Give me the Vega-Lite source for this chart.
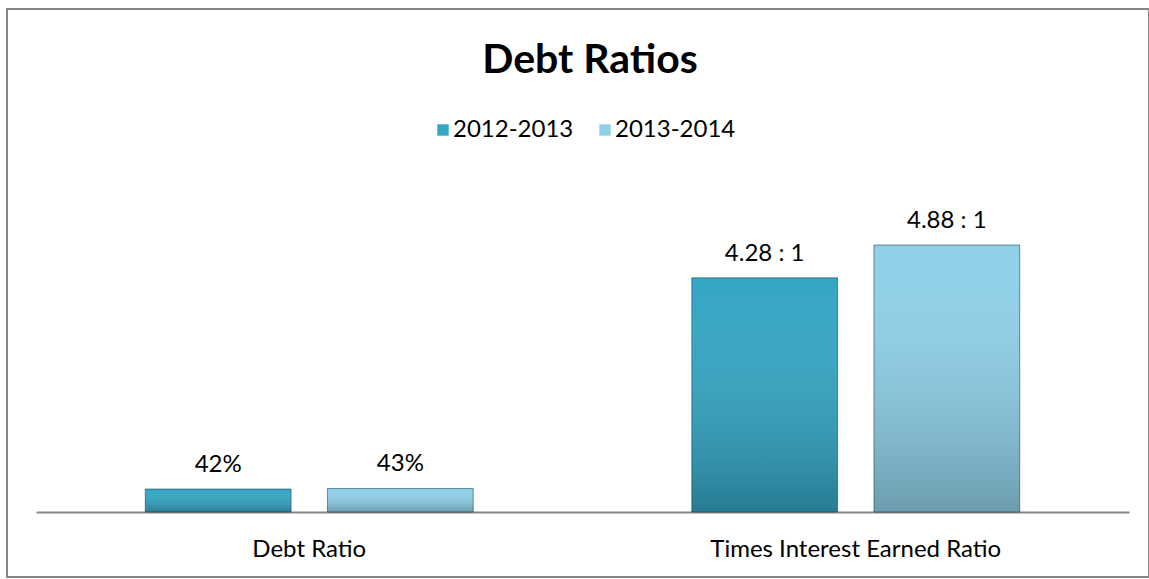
{
  "$schema": "https://vega.github.io/schema/vega-lite/v6.json",
  "width": 1142,
  "height": 568,
  "autosize": {"type": "none"},
  "padding": {"left": 7, "top": 9, "right": 0, "bottom": 2},
  "background": "white",
  "config": {
    "view": {"stroke": "#868686", "strokeWidth": 2},
    "font": "Lato"
  },
  "title": {
    "text": "Debt Ratios",
    "font": "Lato",
    "fontSize": 41,
    "fontWeight": "bold",
    "color": "#000000",
    "anchor": "middle",
    "baseline": "alphabetic",
    "offset": -105,
    "dx": 12
  },
  "data": {
    "values": [
      {"category": "Debt Ratio", "period": "2012-2013", "value": 0.42, "label": "42%"},
      {"category": "Debt Ratio", "period": "2013-2014", "value": 0.43, "label": "43%"},
      {"category": "Times Interest Earned Ratio", "period": "2012-2013", "value": 4.28, "label": "4.28 : 1"},
      {"category": "Times Interest Earned Ratio", "period": "2013-2014", "value": 4.88, "label": "4.88 : 1"}
    ]
  },
  "encoding": {
    "x": {
      "field": "category",
      "type": "nominal",
      "scale": {"range": [29, 1122], "paddingInner": 0.4, "paddingOuter": 0.2},
      "axis": {
        "title": null,
        "orient": "bottom",
        "offset": -65,
        "labelAngle": 0,
        "ticks": false,
        "domainColor": "#868686",
        "domainWidth": 2,
        "labelFont": "Lato",
        "labelFontSize": 24,
        "labelColor": "#000000",
        "labelPadding": 25,
        "labelLimit": 0
      }
    },
    "xOffset": {
      "field": "period",
      "type": "nominal",
      "scale": {"paddingInner": 0.2, "paddingOuter": 0}
    },
    "y": {
      "field": "value",
      "type": "quantitative",
      "scale": {"domain": [0, 4.88], "range": [503, 236], "nice": false, "zero": true},
      "axis": null
    }
  },
  "layer": [
    {
      "mark": {"type": "bar"},
      "encoding": {
        "color": {
          "field": "period",
          "type": "nominal",
          "scale": {"range": ["#33a6c4", "#8fd0e9"]},
          "legend": {
            "title": null,
            "orient": "none",
            "direction": "horizontal",
            "legendX": 424,
            "legendY": 109,
            "padding": 0,
            "symbolType": "square",
            "symbolSize": 130,
            "symbolStrokeWidth": 0,
            "labelFont": "Lato",
            "labelFontSize": 24,
            "labelColor": "#000000",
            "labelOffset": -2,
            "columnPadding": 19
          }
        }
      }
    },
    {
      "mark": {
        "type": "bar",
        "fill": {
          "gradient": "linear",
          "x1": 0, "y1": 0, "x2": 0, "y2": 1,
          "stops": [
            {"offset": 0, "color": "rgba(255,255,255,0.0)"},
            {"offset": 1, "color": "rgba(0,0,0,0.25)"}
          ]
        },
        "stroke": "rgba(20,60,75,0.55)",
        "strokeWidth": 1
      }
    },
    {
      "mark": {
        "type": "text",
        "baseline": "alphabetic",
        "dy": -17,
        "font": "Lato",
        "fontSize": 24,
        "color": "#000000"
      },
      "encoding": {
        "text": {"field": "label", "type": "nominal"}
      }
    }
  ]
}
